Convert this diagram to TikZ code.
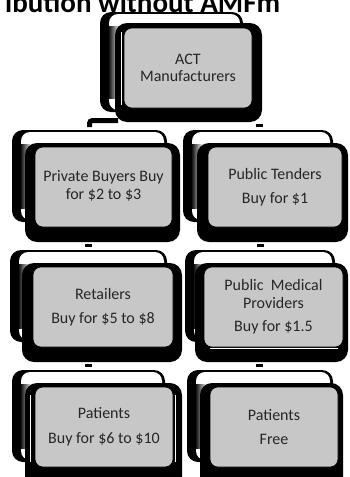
\documentclass[tikz,border=0pt]{standalone}
\usepackage{fontspec}
\setmainfont{Carlito}
\begin{document}
\begin{tikzpicture}[x=1pt,y=-1pt,
  backouter/.style={fill=black, rounded corners=11pt},
  backinner/.style={fill=white, rounded corners=9pt},
  frontouter/.style={fill=black, rounded corners=12pt},
  graybox/.style={fill=black!22, draw=black, line width=0.6pt, rounded corners=8pt},
  lbl/.style={text=black!85, font=\fontsize{16}{17.5}\selectfont, align=center, inner sep=0pt},
  stub/.style={line width=3pt, black}
]
\useasboundingbox (0,0) rectangle (349,477);
\clip (0,0) rectangle (349,477);
\fill[white] (0,0) rectangle (349,477);

% title (cropped at the top edge, as in the reference)
\node[anchor=base west, inner sep=0pt, font=\bfseries\fontsize{29}{29}\selectfont] (title) at (5,12) {ibution without AMFm};

% back shapes: #1 x1, #2 y1, #3 x2, #4 y2
\newcommand{\backshape}[4]{%
  \fill[backouter] (#1,#2) rectangle (#3,#4);
  \fill[backinner] (#1+9,#2+2) rectangle (#3-3,#4-2);
  \shade[left color=black, right color=white] (#1+8,#2+14) rectangle (#1+20,#4-14);
}
\backshape{100}{12}{243}{112}
\backshape{12}{130}{167}{222}
\backshape{183}{130}{333}{222}
\backshape{10}{250}{167}{342}
\backshape{185}{250}{335}{342}
\backshape{12}{370}{165}{462}
\backshape{187}{370}{333}{462}

% connector stubs
\coordinate (s1a) at (118,120.5);
\coordinate (s1b) at (89.5,120.5);
\coordinate (s1c) at (89.5,127);
\draw[line width=5pt, rounded corners=3pt] (s1a) -- (s1b) -- (s1c);
\coordinate (d1a) at (256,125); \coordinate (d1b) at (263,125);
\draw[stub] (d1a) -- (d1b);
\coordinate (d2a) at (85,245.5); \coordinate (d2b) at (92,245.5);
\draw[stub] (d2a) -- (d2b);
\coordinate (d3a) at (257,245.5); \coordinate (d3b) at (264,245.5);
\draw[stub] (d3a) -- (d3b);
\coordinate (d4a) at (85,365.5); \coordinate (d4b) at (92,365.5);
\draw[stub] (d4a) -- (d4b);
\coordinate (d5a) at (256,365.5); \coordinate (d5b) at (263,365.5);
\draw[stub] (d5a) -- (d5b);

% front shapes
\fill[frontouter] (115,23) rectangle (262,122);
\fill[frontouter] (25,143) rectangle (180,242);
\fill[frontouter] (197,143) rectangle (348,242);
\fill[frontouter] (22,263) rectangle (182,362);
\fill[frontouter] (195,263) rectangle (348,362);
\fill[frontouter] (25,383) rectangle (182,490);
\fill[frontouter] (200,383) rectangle (343,490);

% white artifact lines
\draw[white, line width=0.8pt] (121,32) -- (121,105);
\draw[white, line width=0.8pt] (30,395) -- (30,462);
\draw[white, line width=0.8pt] (175.5,395) -- (175.5,462);
\draw[white, line width=0.8pt] (210,348) -- (338,348);

% gray boxes with labels
\draw[graybox] (124,28) rectangle (252,108);
\node[lbl] (act) at (188,68) {ACT\\Manufacturers};

\draw[graybox] (35,147) rectangle (172,227);
\node[lbl] (priv) at (103.5,186) {Private Buyers Buy\\for \$2 to \$3};

\draw[graybox] (208,147) rectangle (342,227);
\node[lbl] (pubt) at (275,187) {Public Tenders\\[7pt]Buy for \$1};

\draw[graybox] (33,267) rectangle (173,347);
\node[lbl] (ret) at (103,307) {Retailers\\[7pt]Buy for \$5 to \$8};

\draw[graybox] (204,267) rectangle (343,347);
\node[lbl] (pubm) at (273.5,307) {Public\ \ Medical\\Providers\\[6pt]Buy for \$1.5};

\draw[graybox] (35,387) rectangle (173,467);
\node[lbl] (pat1) at (104,427) {Patients\\[7pt]Buy for \$6 to \$10};

\draw[graybox] (210,387) rectangle (338,467);
\node[lbl] (pat2) at (274,427) {Patients\\[7pt]Free};
\end{tikzpicture}
\end{document}
